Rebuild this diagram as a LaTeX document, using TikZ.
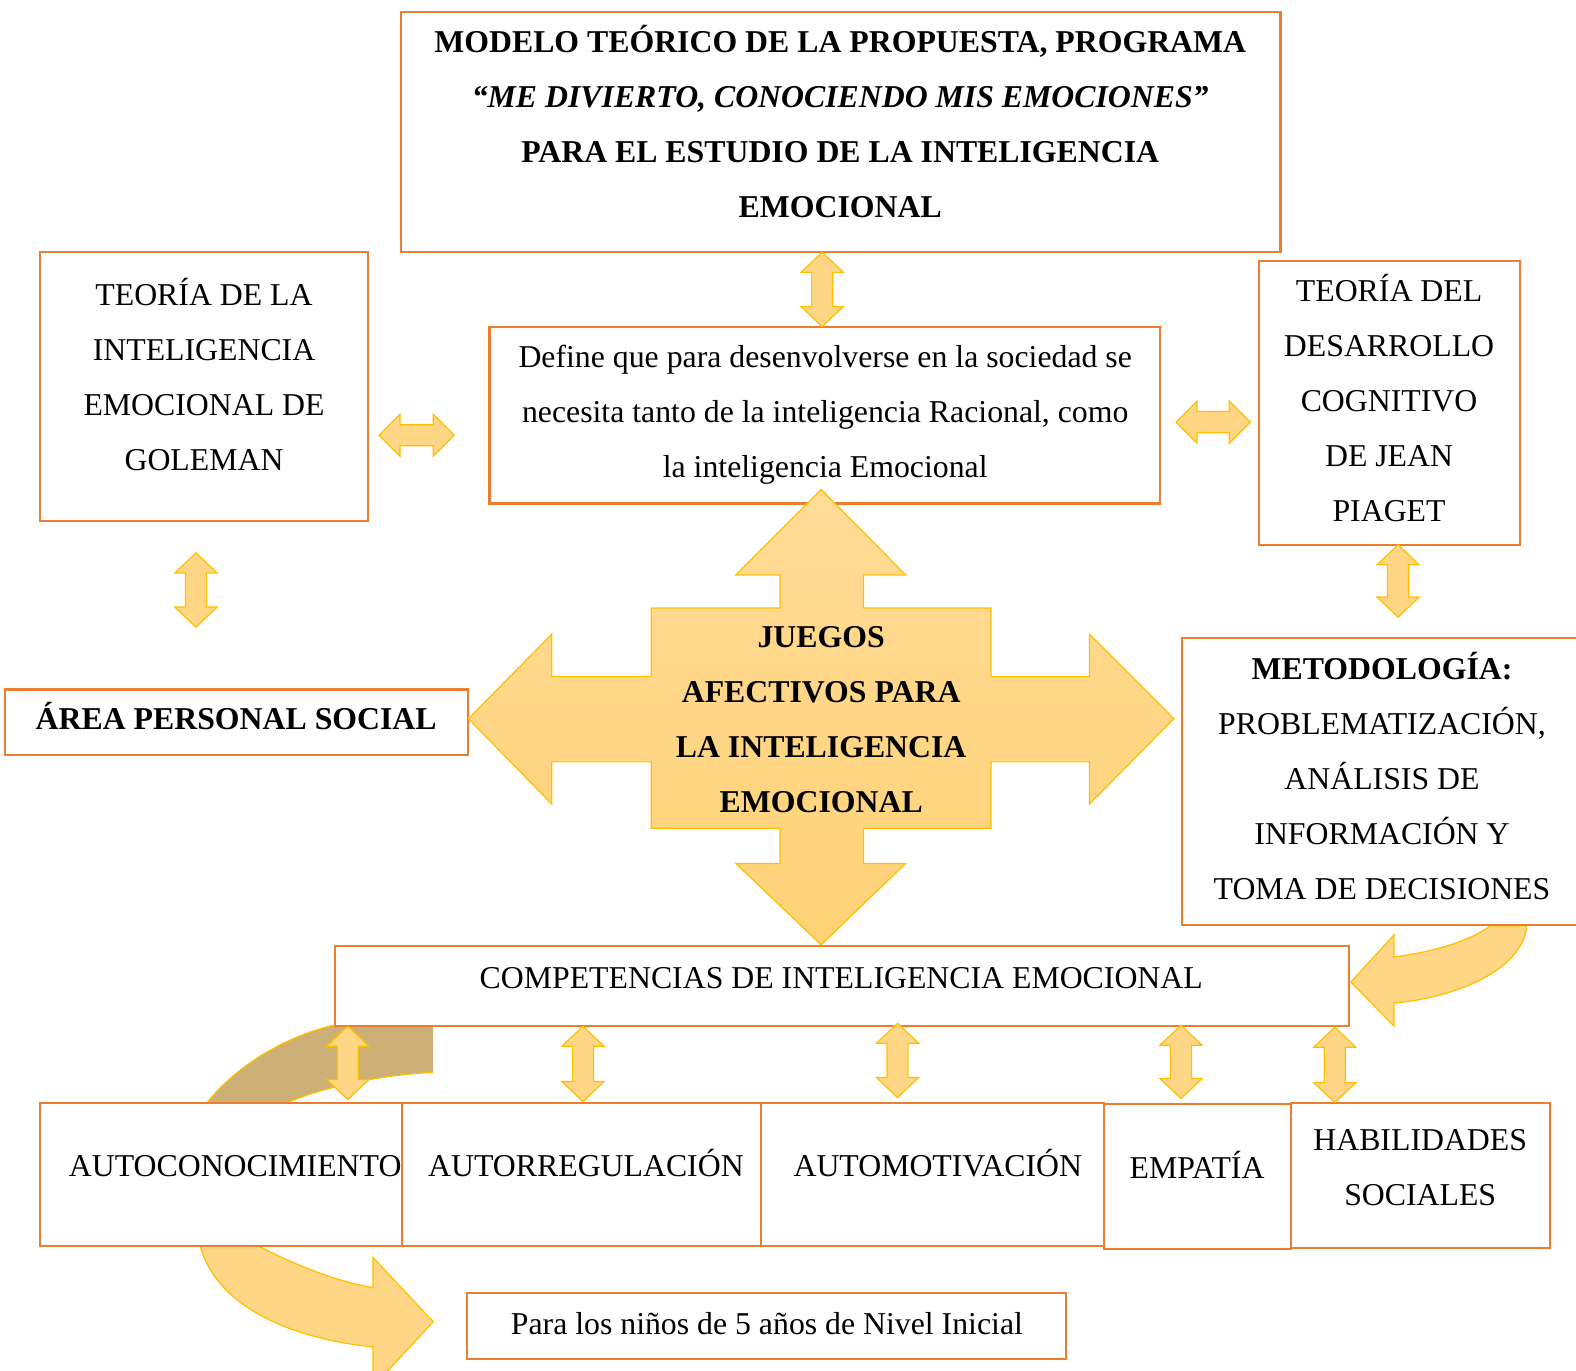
\documentclass[tikz,border=0pt]{standalone}
\usepackage{fontspec}
\setmainfont{Liberation Serif}
\usetikzlibrary{fit}
\definecolor{boxor}{RGB}{237,125,49}
\definecolor{arrfill}{RGB}{255,214,134}
\definecolor{arrtop}{RGB}{255,219,150}
\definecolor{arrbot}{RGB}{255,210,118}
\definecolor{arrline}{RGB}{255,192,0}
\definecolor{tanband}{RGB}{204,176,118}
\newcommand\ls{\rule[-9.6pt]{0pt}{31.2pt}}
% vertical double block arrow: x, ytop, ybottom
\newcommand\VArr[3]{\draw[barrow] (#1,#2) -- ({#1+21},{#2+20}) -- ({#1+10.5},{#2+20}) -- ({#1+10.5},{#3-20}) -- ({#1+21},{#3-20}) -- (#1,#3) -- ({#1-21},{#3-20}) -- ({#1-10.5},{#3-20}) -- ({#1-10.5},{#2+20}) -- ({#1-21},{#2+20}) -- cycle;}
% horizontal double block arrow: y, xleft, xright
\newcommand\HArr[3]{\draw[barrow] (#2,#1) -- ({#2+21},{#1-21}) -- ({#2+21},{#1-10.5}) -- ({#3-21},{#1-10.5}) -- ({#3-21},{#1-21}) -- (#3,#1) -- ({#3-21},{#1+21}) -- ({#3-21},{#1+10.5}) -- ({#2+21},{#1+10.5}) -- ({#2+21},{#1+21}) -- cycle;}
\tikzset{
  box/.style={draw=boxor, line width=1.2pt, fill=white, inner sep=0pt},
  txt/.style={font=\fontsize{18}{31.2}\selectfont, align=center, inner sep=0pt},
  barrow/.style={fill=arrfill, draw=arrline, line width=0.7pt, line join=miter},
}
\begin{document}
\begin{tikzpicture}[x=0.02cm, y=-0.02cm]
\useasboundingbox (0,0) rectangle (1568,1364);
\clip (0,0) rectangle (1568,1364);

% tan band behind boxes
\fill[tanband] (206,1097) .. controls (240,1055) and (290,1030) .. (332,1020) -- (431,1021) -- (431,1067) .. controls (380,1069) and (320,1082) .. (286,1097) -- cycle;
\draw[arrline, line width=0.7pt] (206,1097) .. controls (240,1055) and (290,1030) .. (332,1020);
\draw[arrline, line width=0.7pt] (431,1067) .. controls (380,1069) and (320,1082) .. (286,1097);

% curved arrow from AUTOCONOCIMIENTO
\draw[barrow] (256,1239) .. controls (300,1262) and (340,1276) .. (371,1281) -- (371,1251) -- (431,1315) -- (371,1380) -- (371,1340) .. controls (290,1332) and (215,1300) .. (199,1239) -- cycle;
% curved arrow from METODOLOGIA
\draw[barrow] (1483,921) .. controls (1460,938) and (1420,948) .. (1387,952) -- (1387,930) -- (1344,977) -- (1387,1021) -- (1387,998) .. controls (1450,992) and (1515,965) .. (1519,921) -- cycle;

% boxes
\node[box, fit={(399,12) (1274,251)}] (top) {};
\node[box, fit={(40,251) (366,518)}] (gol) {};
\node[box, fit={(487,325) (1154,501)}] (def) {};
\node[box, fit={(1253,260) (1512,542)}] (pia) {};
\node[box, fit={(5,686) (466,751)}] (area) {};
\node[box, fit={(1176,635) (1572,920)}] (met) {};
\node[box, fit={(333,941) (1342,1021)}] (comp) {};
\node[box, fit={(40,1097) (400,1240)}] (aut1) {};
\node[box, fit={(400,1097) (757,1240)}] (aut2) {};
\node[box, fit={(757,1097) (1098,1240)}] (aut3) {};
\node[box, fit={(1098,1098) (1284,1243)}] (emp) {};
\node[box, fit={(1284,1097) (1542,1242)}] (hab) {};
\node[box, fit={(465,1286) (1061,1352)}] (para) {};

% big cross arrow
\draw[draw=arrline, line width=0.7pt, top color=arrtop, bottom color=arrbot, line join=miter]
 (817,487) -- (901,572) -- (859,572) -- (859,605) -- (986,605) -- (986,673) -- (1084,673) -- (1084,631) -- (1168,715) -- (1084,800) -- (1084,758) -- (986,758) -- (986,824) -- (859,824) -- (859,859) -- (901,859) -- (817,940) -- (732,859) -- (776,859) -- (776,824) -- (648,824) -- (648,758) -- (549,758) -- (549,800) -- (466,715) -- (549,631) -- (549,673) -- (648,673) -- (648,605) -- (776,605) -- (776,572) -- (732,572) -- cycle;

% small double arrows
\VArr{818}{251}{325}
\VArr{195}{550}{624}
\VArr{1391}{542}{614}
\VArr{346}{1021}{1094}
\VArr{580}{1021}{1096}
\VArr{893}{1018}{1092}
\VArr{1175}{1020}{1093}
\VArr{1328}{1022}{1097}
\HArr{433}{377}{452}
\HArr{420}{1170}{1244}

% texts
\node[txt, font=\fontsize{18}{31.2}\selectfont\bfseries] (topT) at (836,123.5) {\ls MODELO TEÓRICO DE LA PROPUESTA, PROGRAMA\\ \ls\itshape “ME DIVIERTO, CONOCIENDO MIS EMOCIONES”\\ \ls PARA EL ESTUDIO DE LA INTELIGENCIA\\ \ls EMOCIONAL};
\node[txt] (golT) at (203,375.5) {\ls TEORÍA DE LA\\ \ls INTELIGENCIA\\ \ls EMOCIONAL DE\\ \ls GOLEMAN};
\node[txt] (defT) at (821,410) {\ls Define que para desenvolverse en la sociedad se\\ \ls necesita tanto de la inteligencia Racional, como\\ \ls la inteligencia Emocional};
\node[txt] (piaT) at (1382,399) {\ls TEORÍA DEL\\ \ls DESARROLLO\\ \ls COGNITIVO\\ \ls DE JEAN\\ \ls PIAGET};
\node[txt, font=\fontsize{18}{31.2}\selectfont\bfseries] (areaT) at (235,715) {\ls ÁREA PERSONAL SOCIAL};
\node[txt, font=\fontsize{18}{31.2}\selectfont\bfseries] (jueT) at (817,715.5) {\ls JUEGOS\\ \ls AFECTIVOS PARA\\ \ls LA INTELIGENCIA\\ \ls EMOCIONAL};
\node[txt] (metT) at (1375,775) {\ls\bfseries METODOLOGÍA:\\ \ls PROBLEMATIZACIÓN,\\ \ls ANÁLISIS DE\\ \ls INFORMACIÓN Y\\ \ls TOMA DE DECISIONES};
\node[txt] (compT) at (837,973) {\ls COMPETENCIAS DE INTELIGENCIA EMOCIONAL};
\node[txt] (aut1T) at (234,1160) {\ls AUTOCONOCIMIENTO};
\node[txt] (aut2T) at (583,1160) {\ls AUTORREGULACIÓN};
\node[txt] (aut3T) at (933,1160) {\ls AUTOMOTIVACIÓN};
\node[txt] (empT) at (1191,1162) {\ls EMPATÍA};
\node[txt] (habT) at (1413,1161.5) {\ls HABILIDADES\\ \ls SOCIALES};
\node[txt] (paraT) at (763,1317) {\ls Para los niños de 5 años de Nivel Inicial};
\end{tikzpicture}
\end{document}
